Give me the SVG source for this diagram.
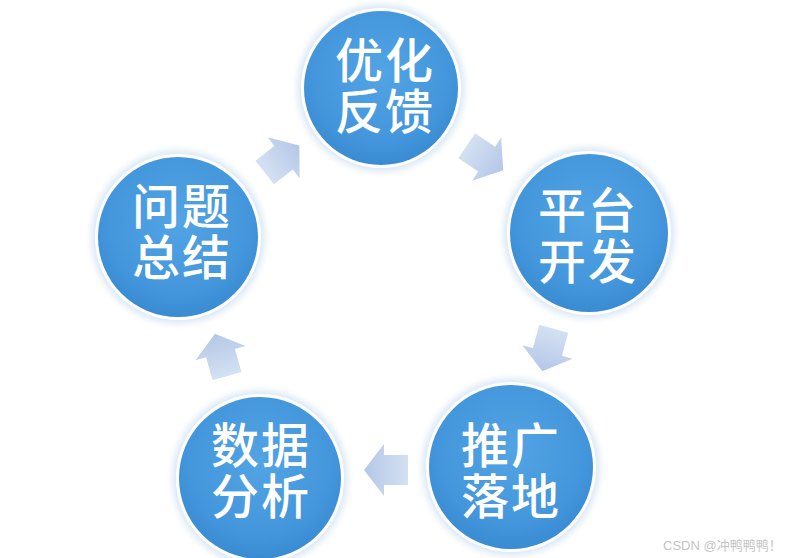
<svg xmlns="http://www.w3.org/2000/svg" width="797" height="558" viewBox="0 0 797 558">
  <defs>
    <radialGradient id="ballFill" cx="50%" cy="40%" r="60%">
      <stop offset="0" stop-color="#52a4e4"/>
      <stop offset="0.75" stop-color="#4396db"/>
      <stop offset="1" stop-color="#398bd2"/>
    </radialGradient>
    <linearGradient id="arrowFill" gradientUnits="userSpaceOnUse" x1="-22" y1="0" x2="22" y2="0">
      <stop offset="0" stop-color="#d4e1f3"/>
      <stop offset="1" stop-color="#b4c7e7"/>
    </linearGradient>
    <filter id="halo" x="-20%" y="-20%" width="140%" height="140%">
      <feGaussianBlur stdDeviation="3"/>
    </filter>
    <polygon id="blockArrow" points="-22,-15 2,-15 2,-26 22,0 2,26 2,15 -22,15"/>
  </defs>
  <style>
    .halo { fill: #dde9f5; filter: url(#halo); }
    .ring { fill: #ffffff; }
    .ball { fill: url(#ballFill); }
    .label { font-family: "Noto Sans CJK SC", "Noto Sans", sans-serif; font-size: 48px; letter-spacing: 2px; font-weight: 500; fill: #ffffff; text-anchor: middle; }
    .arrow { fill: url(#arrowFill); }
    .mark { font-family: "Liberation Sans", "Noto Sans CJK SC", sans-serif; font-size: 13px; fill: #c4c4c4; }
  </style>
  <rect width="797" height="558" fill="#ffffff"/>

  <g id="connectors">
    <use href="#blockArrow" class="arrow" transform="translate(485,158) rotate(34)"/>
    <use href="#blockArrow" class="arrow" transform="translate(548,350) rotate(105)"/>
    <use href="#blockArrow" class="arrow" transform="translate(386,470) rotate(180)"/>
    <use href="#blockArrow" class="arrow" transform="translate(221,355) rotate(-106)"/>
    <use href="#blockArrow" class="arrow" transform="translate(282,159) rotate(-38)"/>
  </g>

  <g id="node-optimize">
    <circle class="halo" cx="381" cy="88" r="84"/>
    <circle class="ring" cx="381" cy="88" r="80"/>
    <circle class="ball" cx="381" cy="88" r="77"/>
    <text class="label"><tspan x="385" y="78">优化</tspan><tspan x="385" y="129">反馈</tspan></text>
  </g>

  <g id="node-platform">
    <circle class="halo" cx="589" cy="233" r="86"/>
    <circle class="ring" cx="589" cy="233" r="82"/>
    <circle class="ball" cx="589" cy="233" r="79"/>
    <text class="label"><tspan x="588" y="228">平台</tspan><tspan x="588" y="279">开发</tspan></text>
  </g>

  <g id="node-promote">
    <circle class="halo" cx="511" cy="467" r="89"/>
    <circle class="ring" cx="511" cy="467" r="85"/>
    <circle class="ball" cx="511" cy="467" r="82"/>
    <text class="label"><tspan x="511" y="463">推广</tspan><tspan x="511" y="514">落地</tspan></text>
  </g>

  <g id="node-analysis">
    <circle class="halo" cx="260" cy="478" r="88"/>
    <circle class="ring" cx="260" cy="478" r="84"/>
    <circle class="ball" cx="260" cy="478" r="81"/>
    <text class="label"><tspan x="261" y="463">数据</tspan><tspan x="261" y="514">分析</tspan></text>
  </g>

  <g id="node-summary">
    <circle class="halo" cx="178" cy="237" r="87"/>
    <circle class="ring" cx="178" cy="237" r="83"/>
    <circle class="ball" cx="178" cy="237" r="80"/>
    <text class="label"><tspan x="182" y="224">问题</tspan><tspan x="182" y="275">总结</tspan></text>
  </g>

  <text class="mark" x="663" y="550">CSDN @冲鸭鸭鸭！</text>
</svg>
